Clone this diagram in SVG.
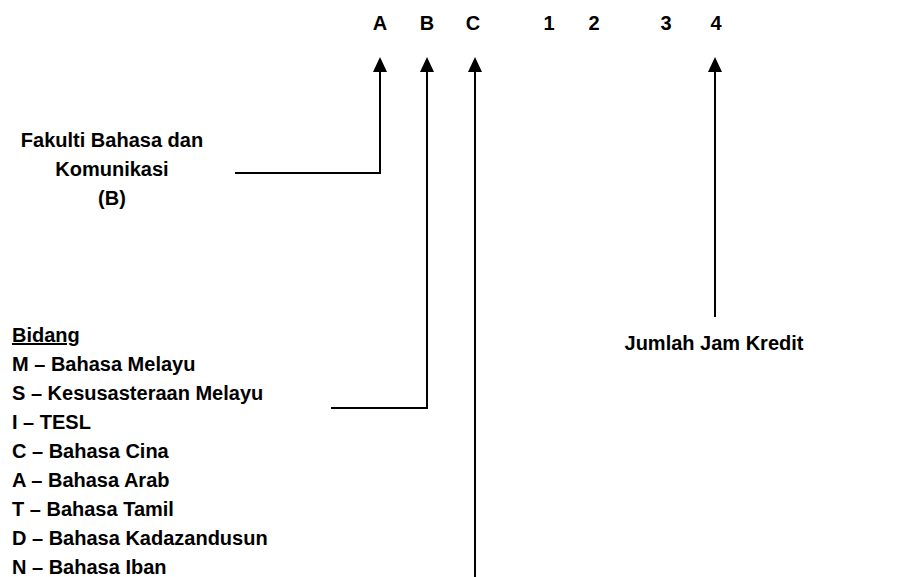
<svg xmlns="http://www.w3.org/2000/svg" width="922" height="577" viewBox="0 0 922 577">
  <style>
    text { font-family: "Liberation Sans", Arial, sans-serif; font-weight: bold; font-size: 20px; fill: #000; }
    .mid { text-anchor: middle; }
    .conn { fill: none; stroke: #000; stroke-width: 2; }
  </style>
  <defs>
    <marker id="arr" viewBox="0 0 15 14" refX="10" refY="7" markerWidth="15" markerHeight="14" markerUnits="userSpaceOnUse" orient="auto">
      <path d="M0,0 L15,7 L0,14 z" fill="#000"/>
    </marker>
  </defs>
  <rect width="922" height="577" fill="#fff"/>

  <g id="code">
    <text class="mid" x="380" y="30">A</text>
    <text class="mid" x="427" y="30">B</text>
    <text class="mid" x="473" y="30">C</text>
    <text class="mid" x="549" y="30">1</text>
    <text class="mid" x="594" y="30">2</text>
    <text class="mid" x="666" y="30">3</text>
    <text class="mid" x="716" y="30">4</text>
  </g>

  <g id="fakulti">
    <text class="mid" x="112" y="147">Fakulti Bahasa dan</text>
    <text class="mid" x="112" y="176">Komunikasi</text>
    <text class="mid" x="112" y="205">(B)</text>
  </g>

  <g id="bidang">
    <text x="12" y="342" text-decoration="underline">Bidang</text>
    <text x="12" y="371">M – Bahasa Melayu</text>
    <text x="12" y="400">S – Kesusasteraan Melayu</text>
    <text x="12" y="429">I – TESL</text>
    <text x="12" y="458">C – Bahasa Cina</text>
    <text x="12" y="487">A – Bahasa Arab</text>
    <text x="12" y="516">T – Bahasa Tamil</text>
    <text x="12" y="545">D – Bahasa Kadazandusun</text>
    <text x="12" y="574">N – Bahasa Iban</text>
  </g>

  <g id="jumlah">
    <text class="mid" x="714" y="350">Jumlah Jam Kredit</text>
  </g>

  <g id="connectors">
    <path class="conn" d="M235,173 H380 V62" marker-end="url(#arr)"/>
    <path class="conn" d="M331,408 H427 V62" marker-end="url(#arr)"/>
    <path class="conn" d="M475,577 V62" marker-end="url(#arr)"/>
    <path class="conn" d="M715,317 V62" marker-end="url(#arr)"/>
  </g>
</svg>
